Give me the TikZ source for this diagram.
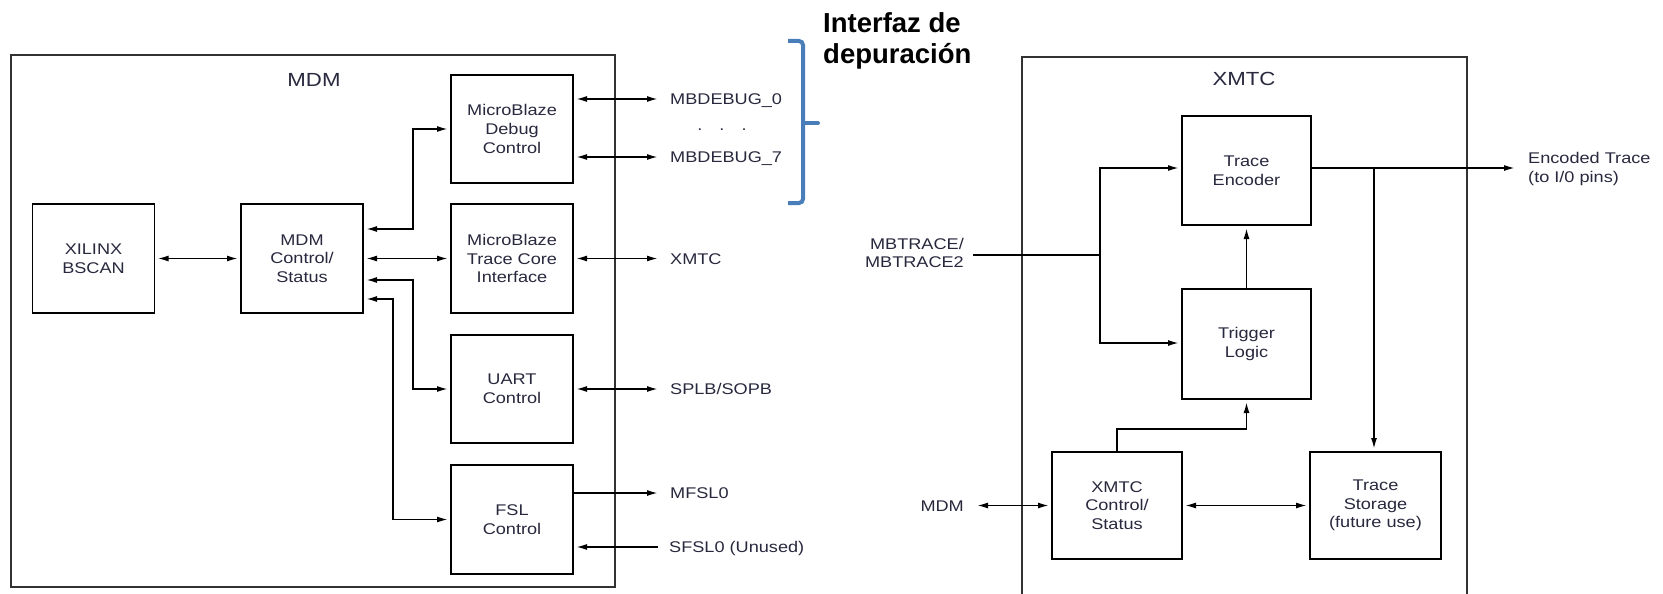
\documentclass[tikz,border=0pt]{standalone}
\usepackage{fontspec}
\usetikzlibrary{arrows.meta}
\newfontfamily\labfont[FakeStretch=1.17]{Liberation Sans}
\newfontfamily\headfont{Liberation Sans}
\definecolor{txt}{RGB}{40,40,62}
\definecolor{bracecol}{RGB}{74,126,187}
\definecolor{framecol}{RGB}{50,50,50}
\begin{document}
\begin{tikzpicture}[x=1pt,y=-1pt,
  box/.style={draw=black, line width=1.8pt, inner sep=0pt, outer sep=0pt, align=center,
    font=\labfont\fontsize{15.5}{18.7}\selectfont, text=txt},
  frame/.style={draw=framecol, line width=2pt, inner sep=0pt, outer sep=0pt},
  lbl/.style={inner sep=0pt, font=\labfont\fontsize{15.5}{18.7}\selectfont, text=txt},
  ttl/.style={inner sep=0pt, font=\labfont\fontsize{19}{22}\selectfont, text=txt},
  wire/.style={line width=1.7pt, draw=black},
  ar/.style={wire, -{Latex[length=11pt,width=6pt]}, shorten >=3pt},
  bi/.style={wire, {Latex[length=11pt,width=6pt]}-{Latex[length=11pt,width=6pt]}, shorten >=3pt, shorten <=3pt}
]
\useasboundingbox (0,0) rectangle (1663,594);
\fill[white] (0,0) rectangle (1663,594);

% ---------------- MDM ----------------
\node[frame, minimum width=604pt, minimum height=532pt] (mdm) at (313,321) {};
\node[ttl] (mdmt) at (314,80) {MDM};

\node[box, minimum width=122pt, minimum height=109pt] (bscan) at (93.5,258.5) {XILINX\\BSCAN};
\node[box, minimum width=122pt, minimum height=109pt] (mctl) at (302,258.5) {MDM\\Control/\\Status};
\node[box, minimum width=122pt, minimum height=108pt] (dbg) at (512,129) {MicroBlaze\\Debug\\Control};
\node[box, minimum width=122pt, minimum height=109pt] (trc) at (512,258.5) {MicroBlaze\\Trace Core\\Interface};
\node[box, minimum width=122pt, minimum height=108pt] (uart) at (512,389) {UART\\Control};
\node[box, minimum width=122pt, minimum height=109pt] (fsl) at (512,519.5) {FSL\\Control};

\coordinate (jdbg) at (413,129);
\coordinate (juart) at (413,389);
\coordinate (jfsl) at (393,519.5);

\draw[bi] (bscan.east) -- (mctl.west);
\draw[bi] (mctl.east |- 0,229) -| (jdbg) -- (dbg.west);
\draw[bi] (mctl.east) -- (trc.west);
\draw[bi] (mctl.east |- 0,280) -| (juart) -- (uart.west);
\draw[bi] (mctl.east |- 0,299) -| (jfsl) -- (fsl.west);

\coordinate (e0) at (661,99);
\coordinate (e7) at (661,157);
\coordinate (ex) at (661,258.5);
\coordinate (es) at (661,389);
\coordinate (em) at (661,493);
\coordinate (ef) at (658,547);

\draw[bi] (dbg.east |- e0) -- (e0);
\draw[bi] (dbg.east |- e7) -- (e7);
\draw[bi] (trc.east |- ex) -- (ex);
\draw[bi] (uart.east |- es) -- (es);
\draw[ar] (fsl.east |- em) -- (em);
\draw[ar] (ef) -- (fsl.east |- ef);

\node[lbl, anchor=base west] (l0) at (670,104.5) {MBDEBUG\_0};
\node[lbl, anchor=base] (ldots) at (722,130.5) {.\hspace{17pt}.\hspace{17pt}.};
\node[lbl, anchor=base west] (l7) at (670,162.5) {MBDEBUG\_7};
\node[lbl, anchor=base west] (lx) at (670,264) {XMTC};
\node[lbl, anchor=base west] (ls) at (670,394.5) {SPLB/SOPB};
\node[lbl, anchor=base west] (lm) at (670,498.5) {MFSL0};
\node[lbl, anchor=base west] (lf) at (669,552.5) {SFSL0 (Unused)};

% ---------------- brace + heading ----------------
\draw[bracecol, line width=4pt, rounded corners=4pt] (788,41) -- (803,41) -- (803,203) -- (788,203);
\draw[bracecol, line width=4pt, line cap=round] (803,123) -- (818,123);
\node[inner sep=0pt, anchor=base west, font=\headfont\bfseries\fontsize{27.5}{31}\selectfont] (h1) at (823,33) {Interfaz de};
\node[inner sep=0pt, anchor=base west, font=\headfont\bfseries\fontsize{27.5}{31}\selectfont] (h2) at (823,64) {depuración};

% ---------------- XMTC ----------------
\draw[framecol, line width=2pt] (1022,600) -- (1022,57) -- (1467,57) -- (1467,600);
\node[ttl] (xmtct) at (1244,79) {XMTC};

\node[box, minimum width=129pt, minimum height=109pt] (enc) at (1246.5,170.5) {Trace\\Encoder};
\node[box, minimum width=129pt, minimum height=110pt] (trg) at (1246.5,344) {Trigger\\Logic};
\node[box, minimum width=130pt, minimum height=107pt] (xctl) at (1117,505.5) {XMTC\\Control/\\Status};
\node[box, minimum width=131pt, minimum height=107pt] (stor) at (1375.5,505.5) {Trace\\Storage\\(future use)};

\coordinate (mbin) at (973,255);
\coordinate (jmb) at (1100,255);
\coordinate (jtrg) at (1246.5,429);
\coordinate (eout) at (1518,168);
\coordinate (jst) at (1374,168);
\coordinate (mdmin) at (974,505.5);

\draw[wire] (mbin) -- (jmb);
\draw[ar] (jmb) |- (enc.west |- 0,168);
\draw[ar] (jmb) |- (trg.west |- 0,343);
\draw[ar] (trg.north) -- (enc.south);
\draw[ar] (xctl.north) |- (jtrg) -- (trg.south);
\draw[ar] (enc.east |- eout) -- (eout);
\draw[ar] (jst) -- (jst |- stor.north);
\draw[bi] (mdmin) -- (xctl.west);
\draw[bi] (xctl.east) -- (stor.west);

\node[lbl, anchor=east, align=right] (lmb) at (964,253) {MBTRACE/\\MBTRACE2};
\node[lbl, anchor=base east] (lmdm) at (964,511) {MDM};
\node[lbl, anchor=west, align=left] (lenc) at (1528,169) {Encoded Trace\\(to I/0 pins)};
\end{tikzpicture}
\end{document}
